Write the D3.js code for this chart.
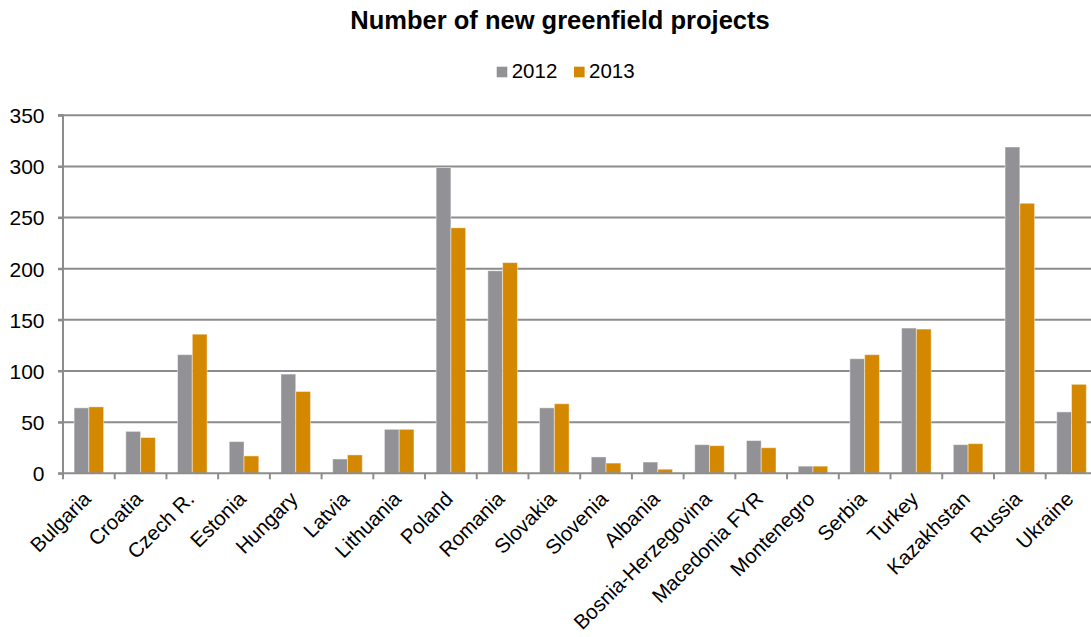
<!DOCTYPE html>
<html><head><meta charset="utf-8">
<script src="https://cdn.jsdelivr.net/npm/d3@7"></script>
<style>body{margin:0;background:#fff}svg{display:block;font-family:"Liberation Sans",Arial,sans-serif}</style>
</head><body>
<svg id="c" width="1091" height="637"></svg>
<script>
const categories = ["Bulgaria","Croatia","Czech R.","Estonia","Hungary","Latvia","Lithuania","Poland","Romania","Slovakia","Slovenia","Albania","Bosnia-Herzegovina","Macedonia FYR","Montenegro","Serbia","Turkey","Kazakhstan","Russia","Ukraine"];
const series2012 = [64,41,116,31,97,14,43,299,198,64,16,11,28,32,7,112,142,28,319,60];
const series2013 = [65,35,136,17,80,18,43,240,206,68,10,4,27,25,7,116,141,29,264,87];
const seriesNames = ["2012","2013"];
const colors = ["#929196","#D38800"];
const yTicks = [0,50,100,150,200,250,300,350];
const title = "Number of new greenfield projects";

(function(){
const svg = d3.select("#c");
const pLeft = 63, pRight = 1097.4, pTop = 115.3, pBottom = 473.3;

const x = d3.scaleBand().domain(categories).range([pLeft, pRight]).paddingInner(0).paddingOuter(0);
const bw = x.bandwidth() / 3.5;
const xs = d3.scaleBand().domain(seriesNames).range([bw*0.75, bw*2.75]).padding(0);
const y = d3.scaleLinear().domain([0,350]).range([pBottom, pTop]);

// gridlines
svg.append("g").selectAll("line").data(yTicks.filter(d=>d>0)).join("line")
  .attr("x1", pLeft-5).attr("x2", 1091).attr("y1", d=>y(d)).attr("y2", d=>y(d))
  .attr("stroke", "#8c8c8c").attr("stroke-width", 2);

// bars
const data = categories.map((c,i)=>({c, v:[series2012[i], series2013[i]]}));
const g = svg.append("g").selectAll("g").data(data).join("g")
  .attr("transform", d=>`translate(${x(d.c)},0)`);
g.selectAll("rect").data(d=>d.v.map((v,j)=>({v, s:seriesNames[j], j}))).join("rect")
  .attr("x", d=>xs(d.s)).attr("width", xs.bandwidth())
  .attr("y", d=>y(d.v)).attr("height", d=>pBottom - y(d.v))
  .attr("fill", d=>colors[d.j])
  .attr("stroke", "rgba(255,255,255,0.45)").attr("stroke-width", 1);

// y axis
const yAxis = d3.axisLeft(y).tickValues(yTicks).tickSize(5).tickPadding(0).tickFormat(d3.format("d"));
const ya = svg.append("g").attr("transform", `translate(${pLeft},0)`).call(yAxis);
ya.select(".domain").attr("stroke","#8c8c8c").attr("stroke-width",2).attr("d", `M-5,${pTop}H0V${pBottom}`);
ya.selectAll(".tick line").attr("stroke","#8c8c8c").attr("stroke-width",2);
ya.selectAll(".tick text").attr("font-size", 21).attr("fill","#000")
  .attr("font-family",'"Liberation Sans",Arial,sans-serif')
  .attr("text-anchor","end").attr("x",-18.5).attr("dy","0.35em");

// x axis
const xAxis = d3.axisBottom(x).tickSize(0).tickFormat("");
const xa = svg.append("g").attr("transform", `translate(0,${pBottom})`).call(xAxis);
xa.select(".domain").attr("stroke","#8c8c8c").attr("stroke-width",2).attr("d", `M${pLeft-5},0H1091`);
xa.selectAll(".tick").remove();
xa.append("g").selectAll("line").data(d3.range(categories.length+1)).join("line")
  .attr("x1", i=>pLeft + i*x.step()).attr("x2", i=>pLeft + i*x.step())
  .attr("y1", 0).attr("y2", 6).attr("stroke","#8c8c8c").attr("stroke-width",2);

svg.append("g").selectAll("text").data(categories).join("text")
  .attr("transform", d=>`translate(${x(d)+x.bandwidth()/2+3.2},${pBottom+27}) rotate(-45)`)
  .attr("text-anchor","end")
  .attr("font-size", 20.5).attr("fill","#000").text(d=>d);

// title
svg.append("text").attr("x",560).attr("y",28.5)
  .attr("text-anchor","middle").attr("font-size",25.5).attr("font-weight","bold").attr("fill","#000").text(title);

// legend
const legX = [496.7, 574];
const lg = svg.append("g").selectAll("g").data(seriesNames).join("g")
  .attr("transform", (d,i)=>`translate(${legX[i]},0)`);
lg.append("rect").attr("x",0).attr("y",66.7).attr("width",10.6).attr("height",10.6).attr("fill",(d,i)=>colors[i]);
lg.append("text").attr("x",15).attr("y",78).attr("font-size",20.5).attr("fill","#000").text(d=>d);
})();
</script>
</body></html>
